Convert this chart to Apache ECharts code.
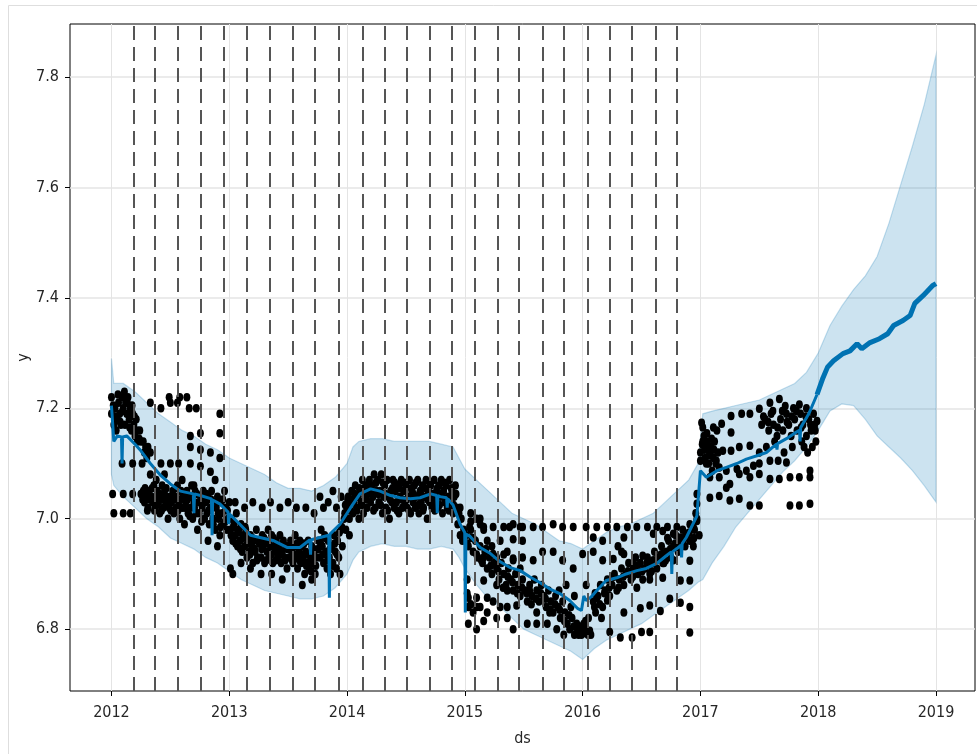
<!DOCTYPE html>
<html>
<head>
<meta charset="utf-8">
<script src="https://cdn.jsdelivr.net/npm/echarts@6/dist/echarts.min.js"></script>
<style>
  html, body { margin: 0; padding: 0; background: #ffffff; }
  #chart { width: 977px; height: 754px; }
</style>
</head>
<body>
<div id="chart"></div>
<script>
// Axis ticks
const yearTicks = [2012, 2013, 2014, 2015, 2016, 2017, 2018, 2019];
const valueTicks = [6.8, 7.0, 7.2, 7.4, 7.6, 7.8];

// Trend changepoints (decimal years)
const changepoints = [
  2012.195, 2012.365, 2012.56, 2012.755, 2012.95, 2013.154, 2013.341, 2013.536,
  2013.731, 2013.926, 2014.129, 2014.316, 2014.511, 2014.698, 2014.893, 2015.08,
  2015.275, 2015.462, 2015.657, 2015.843, 2016.038, 2016.233, 2016.42, 2016.615, 2016.802
];

// Observed history: [decimal year, y]
const observed = [
  // 2012 Q1
  [2012.00,7.22],[2012.00,7.19],[2012.01,7.045],[2012.02,7.01],[2012.02,7.17],[2012.03,7.20],[2012.04,7.16],
  [2012.05,7.18],[2012.06,7.21],[2012.07,7.19],[2012.08,7.17],[2012.09,7.22],[2012.09,7.10],[2012.10,7.20],
  [2012.10,7.045],[2012.10,7.01],[2012.11,7.23],[2012.12,7.21],[2012.13,7.19],[2012.14,7.22],[2012.15,7.18],
  [2012.16,7.20],[2012.16,7.01],[2012.17,7.16],[2012.18,7.19],[2012.18,7.10],[2012.18,7.045],[2012.19,7.17],
  [2012.20,7.15],[2012.21,7.18],[2012.22,7.14],[2012.24,7.16],[2012.25,7.14],[2012.25,7.045],[2012.26,7.10],
  [2012.015,7.205],[2012.035,7.185],[2012.055,7.225],[2012.075,7.175],[2012.095,7.195],[2012.115,7.17],
  [2012.135,7.21],[2012.155,7.165],[2012.175,7.205],[2012.195,7.185],[2012.215,7.16],[2012.235,7.145],
  // 2012 Q2
  [2012.27,7.14],[2012.28,7.12],[2012.29,7.13],[2012.30,7.11],[2012.31,7.13],[2012.33,7.12],[2012.33,7.21],
  [2012.42,7.20],[2012.42,7.10],[2012.50,7.21],[2012.49,7.22],[2012.50,7.10],[2012.33,7.08],[2012.38,7.07],
  [2012.45,7.08],[2012.27,7.05],[2012.28,7.03],[2012.30,7.04],[2012.31,7.02],[2012.32,7.05],[2012.34,7.04],
  [2012.35,7.03],[2012.36,7.06],[2012.37,7.02],[2012.38,7.04],[2012.39,7.05],[2012.40,7.03],[2012.41,7.01],
  [2012.42,7.04],[2012.43,7.06],[2012.44,7.02],[2012.45,7.05],[2012.46,7.03],[2012.47,7.04],[2012.48,7.00],
  [2012.49,7.02],[2012.50,7.04],
  [2012.265,7.035],[2012.285,7.055],[2012.305,7.015],[2012.325,7.035],[2012.345,7.055],[2012.365,7.015],
  [2012.385,7.025],[2012.405,7.045],[2012.425,7.015],[2012.445,7.035],[2012.465,7.055],[2012.485,7.025],
  // 2012 Q3
  [2012.56,7.21],[2012.58,7.22],[2012.64,7.22],[2012.66,7.20],[2012.72,7.20],[2012.57,7.10],[2012.67,7.15],
  [2012.67,7.13],[2012.67,7.10],[2012.755,7.155],[2012.755,7.125],[2012.755,7.095],[2012.60,7.07],[2012.70,7.06],
  [2012.51,7.03],[2012.52,7.05],[2012.53,7.01],[2012.54,7.04],[2012.55,7.02],[2012.56,7.06],[2012.57,7.03],
  [2012.58,7.00],[2012.59,7.05],[2012.60,7.02],[2012.61,7.04],[2012.62,6.99],[2012.63,7.03],[2012.64,7.05],
  [2012.65,7.01],[2012.66,7.04],[2012.67,7.02],[2012.68,7.06],[2012.69,7.00],[2012.70,7.03],[2012.71,7.05],
  [2012.72,7.01],[2012.73,6.98],[2012.74,7.03],
  [2012.505,7.015],[2012.525,7.035],[2012.545,7.055],[2012.565,7.015],[2012.585,7.035],[2012.605,7.045],
  [2012.625,7.02],[2012.645,7.035],[2012.665,7.005],[2012.685,7.04],[2012.705,7.02],[2012.725,7.045],
  [2012.745,7.01],
  // 2012 Q4
  [2012.92,7.19],[2012.92,7.155],[2012.92,7.11],[2012.84,7.12],[2012.84,7.085],[2012.88,7.07],
  [2012.76,7.04],[2012.77,7.02],[2012.78,7.05],[2012.79,7.00],[2012.80,7.03],[2012.81,7.01],[2012.82,7.04],
  [2012.82,6.96],[2012.83,6.99],[2012.84,7.02],[2012.85,7.05],[2012.86,7.00],[2012.87,7.03],[2012.88,6.98],
  [2012.89,7.02],[2012.90,7.04],[2012.90,6.95],[2012.91,7.00],[2012.92,6.97],[2012.93,7.03],[2012.94,7.01],
  [2012.95,6.99],[2012.96,7.05],[2012.97,7.02],[2012.98,6.98],[2012.99,7.00],
  [2012.765,6.995],[2012.785,7.03],[2012.805,7.045],[2012.825,7.015],[2012.845,7.035],[2012.865,6.99],
  [2012.885,7.025],[2012.905,7.01],[2012.925,6.985],[2012.945,7.035],[2012.965,6.995],[2012.985,7.015],
  // 2013 Q1
  [2013.00,7.03],[2013.01,6.98],[2013.02,7.00],[2013.03,6.96],[2013.04,6.99],[2013.05,6.97],[2013.06,7.01],
  [2013.07,6.95],[2013.08,6.98],[2013.09,6.96],[2013.10,6.99],[2013.11,6.94],[2013.12,6.97],[2013.13,6.95],
  [2013.14,6.98],[2013.15,6.93],[2013.16,6.96],[2013.17,6.94],[2013.18,6.97],[2013.19,6.95],[2013.20,6.92],
  [2013.21,6.96],[2013.22,6.94],[2013.23,6.98],[2013.24,6.93],[2013.05,7.03],[2013.13,7.02],[2013.20,7.03],
  [2013.01,6.91],[2013.03,6.90],[2013.10,6.92],[2013.18,6.91],
  [2013.015,6.97],[2013.035,6.985],[2013.055,6.955],[2013.075,6.975],[2013.095,6.945],[2013.115,6.965],
  [2013.135,6.985],[2013.155,6.955],[2013.175,6.935],[2013.195,6.965],[2013.215,6.945],[2013.235,6.925],
  // 2013 Q2
  [2013.26,6.96],[2013.27,6.93],[2013.28,6.97],[2013.29,6.95],[2013.30,6.92],[2013.31,6.96],[2013.32,6.94],
  [2013.33,6.98],[2013.34,6.93],[2013.35,6.95],[2013.36,6.97],[2013.37,6.92],[2013.38,6.95],[2013.39,6.94],
  [2013.40,6.96],[2013.41,6.93],[2013.42,6.95],[2013.43,6.97],[2013.44,6.92],[2013.45,6.94],[2013.46,6.96],
  [2013.47,6.93],[2013.48,6.95],[2013.49,6.91],[2013.28,7.02],[2013.35,7.03],[2013.43,7.02],[2013.50,7.03],
  [2013.27,6.90],[2013.36,6.90],[2013.45,6.89],
  [2013.255,6.955],[2013.275,6.945],[2013.295,6.965],[2013.315,6.925],[2013.335,6.955],[2013.355,6.935],
  [2013.375,6.965],[2013.395,6.925],[2013.415,6.945],[2013.435,6.935],[2013.455,6.955],[2013.475,6.925],
  [2013.495,6.945],
  // 2013 Q3
  [2013.50,6.95],[2013.51,6.93],[2013.52,6.96],[2013.53,6.94],[2013.54,6.92],[2013.55,6.95],[2013.56,6.97],
  [2013.57,6.93],[2013.58,6.91],[2013.59,6.94],[2013.60,6.96],[2013.61,6.92],[2013.62,6.95],[2013.63,6.93],
  [2013.64,6.90],[2013.65,6.94],[2013.66,6.92],[2013.67,6.96],[2013.68,6.91],[2013.69,6.93],[2013.70,6.95],
  [2013.71,6.92],[2013.72,6.94],[2013.73,6.90],[2013.74,6.93],[2013.57,7.02],[2013.65,7.02],[2013.72,7.01],
  [2013.62,6.88],[2013.70,6.89],
  [2013.515,6.945],[2013.535,6.925],[2013.555,6.935],[2013.575,6.955],[2013.595,6.925],[2013.615,6.935],
  [2013.635,6.955],[2013.655,6.915],[2013.675,6.935],[2013.695,6.905],[2013.715,6.945],[2013.735,6.915],
  // 2013 Q4
  [2013.76,6.96],[2013.77,6.93],[2013.78,6.98],[2013.79,6.95],[2013.80,6.92],[2013.81,6.97],[2013.82,6.94],
  [2013.83,6.91],[2013.84,6.96],[2013.85,6.93],[2013.86,6.90],[2013.87,6.95],[2013.88,6.92],[2013.89,6.97],
  [2013.90,6.94],[2013.91,6.91],[2013.92,6.96],[2013.93,6.93],[2013.94,6.90],[2013.95,6.98],[2013.96,6.95],
  [2013.77,7.04],[2013.80,7.02],[2013.84,7.03],[2013.88,7.05],[2013.91,7.02],[2013.95,7.04],[2013.98,7.01],
  [2013.755,6.945],[2013.775,6.955],[2013.795,6.935],[2013.815,6.965],[2013.835,6.925],[2013.855,6.945],
  [2013.875,6.915],[2013.895,6.955],[2013.915,6.935],[2013.935,6.975],[2013.955,6.985],[2013.975,7.00],
  [2013.985,7.025],
  // 2014 Q1
  [2014.00,7.02],[2014.01,7.04],[2014.02,7.00],[2014.03,7.03],[2014.04,7.05],[2014.05,7.01],[2014.06,7.03],
  [2014.07,7.06],[2014.08,7.02],[2014.09,7.04],[2014.10,7.00],[2014.11,7.05],[2014.12,7.03],[2014.13,7.07],
  [2014.14,7.01],[2014.15,7.04],[2014.16,7.06],[2014.17,7.02],[2014.18,7.05],[2014.19,7.07],[2014.20,7.03],
  [2014.21,7.06],[2014.22,7.04],[2014.23,7.08],[2014.24,7.02],[2014.25,7.05],[2013.99,6.98],[2014.02,6.97],
  [2014.005,7.035],[2014.025,7.015],[2014.045,7.035],[2014.065,7.045],[2014.085,7.015],[2014.105,7.055],
  [2014.125,7.025],[2014.145,7.055],[2014.165,7.035],[2014.185,7.065],[2014.205,7.045],[2014.225,7.015],
  [2014.245,7.065],
  // 2014 Q2
  [2014.26,7.07],[2014.27,7.03],[2014.28,7.05],[2014.29,7.08],[2014.30,7.01],[2014.31,7.04],[2014.32,7.06],
  [2014.33,7.02],[2014.34,7.07],[2014.35,7.04],[2014.36,7.00],[2014.37,7.05],[2014.38,7.03],[2014.39,7.07],
  [2014.40,7.02],[2014.41,7.05],[2014.42,7.03],[2014.43,7.06],[2014.44,7.01],[2014.45,7.04],[2014.46,7.07],
  [2014.47,7.02],[2014.48,7.05],[2014.49,7.03],
  [2014.265,7.045],[2014.285,7.025],[2014.305,7.065],[2014.325,7.045],[2014.345,7.015],[2014.365,7.035],
  [2014.385,7.055],[2014.405,7.065],[2014.425,7.015],[2014.445,7.055],[2014.465,7.035],[2014.485,7.065],
  // 2014 Q3
  [2014.50,7.06],[2014.51,7.02],[2014.52,7.04],[2014.53,7.07],[2014.54,7.01],[2014.55,7.05],[2014.56,7.03],
  [2014.57,7.06],[2014.58,7.02],[2014.59,7.04],[2014.60,7.07],[2014.61,7.01],[2014.62,7.05],[2014.63,7.03],
  [2014.64,7.06],[2014.65,7.02],[2014.66,7.04],[2014.67,7.07],[2014.68,7.00],[2014.69,7.05],[2014.70,7.03],
  [2014.71,7.06],[2014.72,7.02],[2014.73,7.04],[2014.74,7.07],
  [2014.505,7.035],[2014.525,7.015],[2014.545,7.055],[2014.565,7.045],[2014.585,7.065],[2014.605,7.025],
  [2014.625,7.045],[2014.645,7.015],[2014.665,7.055],[2014.685,7.035],[2014.705,7.065],[2014.725,7.045],
  [2014.745,7.015],
  // 2014 Q4
  [2014.75,7.03],[2014.76,7.05],[2014.77,7.02],[2014.78,7.06],[2014.79,7.04],[2014.80,7.07],[2014.81,7.01],
  [2014.82,7.05],[2014.83,7.03],[2014.84,7.06],[2014.85,7.02],[2014.86,7.04],[2014.87,7.07],[2014.88,7.03],
  [2014.89,7.05],[2014.90,7.01],[2014.91,7.04],[2014.92,7.06],[2014.93,7.02],[2014.94,6.99],[2014.95,7.01],
  [2014.96,6.97],[2014.97,7.00],[2014.98,6.96],[2014.99,6.98],
  [2014.765,7.055],[2014.785,7.025],[2014.805,7.045],[2014.825,7.065],[2014.845,7.035],[2014.865,7.015],
  [2014.885,7.055],[2014.905,7.025],[2014.925,7.045],
  // 2015 Q1
  [2014.96,7.02],[2015.04,6.985],[2015.07,6.965],[2015.13,7.00],[2015.16,6.985],[2015.19,6.96],[2015.23,6.95],
  [2015.05,7.01],[2015.05,6.995],[2015.10,7.00],[2015.13,6.99],[2015.16,6.98],
  [2015.01,6.97],[2015.03,6.95],[2015.05,6.98],[2015.07,6.94],[2015.09,6.96],[2015.11,6.93],[2015.13,6.95],
  [2015.15,6.92],[2015.17,6.94],[2015.19,6.91],[2015.21,6.93],[2015.23,6.90],[2015.25,6.92],
  [2015.02,6.89],[2015.03,6.857],[2015.03,6.84],[2015.03,6.81],[2015.10,6.857],[2015.10,6.84],[2015.10,6.80],
  [2015.19,6.857],[2015.19,6.83],[2015.02,6.865],[2015.05,6.845],[2015.07,6.83],[2015.13,6.84],[2015.16,6.815],
  [2015.24,6.85],[2015.16,6.93],[2015.24,6.936],[2015.16,6.888],[2015.24,6.985],
  [2015.02,6.955],[2015.06,6.965],[2015.10,6.935],[2015.14,6.925],[2015.18,6.945],[2015.22,6.915],
  // 2015 Q2
  [2015.27,6.93],[2015.30,6.96],[2015.36,6.94],[2015.41,6.925],[2015.47,6.91],[2015.38,6.985],[2015.41,6.99],
  [2015.47,6.985],[2015.27,6.82],[2015.30,6.84],[2015.36,6.82],[2015.41,6.80],[2015.36,6.84],[2015.44,6.843],
  [2015.33,6.935],[2015.41,6.928],[2015.49,6.93],[2015.41,6.963],[2015.49,6.96],[2015.33,6.985],[2015.49,6.985],
  [2015.27,6.91],[2015.29,6.89],[2015.31,6.92],[2015.33,6.90],[2015.35,6.88],[2015.37,6.91],[2015.39,6.89],
  [2015.41,6.87],[2015.43,6.90],[2015.45,6.88],[2015.47,6.86],[2015.49,6.89],[2015.27,6.88],[2015.36,6.87],
  [2015.285,6.905],[2015.325,6.875],[2015.365,6.895],[2015.405,6.885],[2015.445,6.865],[2015.485,6.875],
  // 2015 Q3
  [2015.51,6.87],[2015.53,6.85],[2015.55,6.88],[2015.57,6.86],[2015.59,6.89],[2015.61,6.87],[2015.63,6.85],
  [2015.65,6.88],[2015.67,6.86],[2015.69,6.84],[2015.71,6.87],[2015.73,6.85],[2015.53,6.81],[2015.61,6.83],
  [2015.61,6.81],[2015.70,6.81],[2015.72,6.83],[2015.58,6.925],[2015.66,6.94],[2015.75,6.94],[2015.58,6.985],
  [2015.66,6.985],[2015.75,6.99],[2015.55,6.87],
  [2015.525,6.865],[2015.565,6.845],[2015.605,6.855],[2015.645,6.865],[2015.685,6.855],[2015.725,6.835],
  // 2015 Q4
  [2015.75,6.83],[2015.77,6.86],[2015.79,6.84],[2015.81,6.82],[2015.83,6.85],[2015.85,6.83],[2015.87,6.81],
  [2015.89,6.80],[2015.91,6.82],[2015.93,6.79],[2015.95,6.81],[2015.97,6.80],[2015.99,6.79],[2015.78,6.80],
  [2015.84,6.79],[2015.90,6.84],[2015.95,6.792],[2015.83,6.925],[2015.92,6.91],[2015.83,6.985],[2015.92,6.985],
  [2015.80,6.87],[2015.86,6.88],[2015.93,6.86],
  [2015.765,6.845],[2015.805,6.835],[2015.845,6.815],[2015.885,6.825],[2015.925,6.805],[2015.965,6.79],
  [2015.985,6.805],
  // 2016 Q1
  [2016.00,6.792],[2016.06,6.797],[2016.01,6.81],[2016.03,6.80],[2016.05,6.82],[2016.07,6.79],[2016.09,6.85],
  [2016.11,6.83],[2016.13,6.86],[2016.15,6.88],[2016.17,6.84],[2016.19,6.87],[2016.21,6.89],[2016.23,6.86],
  [2016.12,6.857],[2016.21,6.852],[2016.23,6.795],[2016.00,6.936],[2016.09,6.94],[2016.17,6.925],[2016.09,6.966],
  [2016.17,6.96],[2016.03,6.985],[2016.12,6.985],[2016.21,6.985],[2016.03,6.88],[2016.10,6.84],[2016.16,6.82],
  [2016.005,6.795],[2016.025,6.815],[2016.045,6.79],[2016.105,6.865],[2016.145,6.845],[2016.185,6.865],
  [2016.225,6.875],
  // 2016 Q2
  [2016.25,6.88],[2016.27,6.90],[2016.29,6.87],[2016.31,6.89],[2016.33,6.91],[2016.35,6.88],[2016.37,6.90],
  [2016.39,6.92],[2016.41,6.89],[2016.43,6.91],[2016.45,6.93],[2016.47,6.90],[2016.49,6.92],[2016.32,6.785],
  [2016.42,6.785],[2016.35,6.83],[2016.46,6.875],[2016.49,6.838],[2016.26,6.927],[2016.35,6.936],[2016.43,6.92],
  [2016.35,6.966],[2016.29,6.985],[2016.38,6.985],[2016.46,6.985],[2016.30,6.95],[2016.33,6.94],
  [2016.265,6.895],[2016.305,6.875],[2016.345,6.895],[2016.385,6.905],[2016.425,6.895],[2016.465,6.915],
  // 2016 Q3
  [2016.51,6.89],[2016.53,6.91],[2016.55,6.93],[2016.57,6.90],[2016.59,6.92],[2016.61,6.94],[2016.63,6.91],
  [2016.65,6.93],[2016.67,6.95],[2016.69,6.92],[2016.71,6.94],[2016.73,6.96],[2016.50,6.795],[2016.57,6.795],
  [2016.57,6.843],[2016.57,6.89],[2016.66,6.833],[2016.68,6.893],[2016.74,6.855],[2016.51,6.933],[2016.60,6.925],
  [2016.68,6.936],[2016.60,6.973],[2016.68,6.978],[2016.55,6.985],[2016.63,6.985],[2016.72,6.985],[2016.68,6.92],
  [2016.72,6.965],
  [2016.505,6.905],[2016.545,6.92],[2016.585,6.905],[2016.625,6.925],[2016.665,6.935],[2016.705,6.925],
  [2016.745,6.945],
  // 2016 Q4
  [2016.75,6.93],[2016.77,6.95],[2016.79,6.97],[2016.81,6.94],[2016.83,6.96],[2016.85,6.98],[2016.87,6.95],
  [2016.89,6.97],[2016.91,6.99],[2016.93,6.96],[2016.95,6.98],[2016.97,7.00],[2016.99,6.97],[2016.77,6.973],
  [2016.80,6.948],[2016.83,6.966],[2016.85,6.96],[2016.88,6.973],[2016.91,6.96],[2016.94,6.95],[2016.91,6.924],
  [2016.94,6.985],[2016.96,7.01],[2016.80,6.985],[2016.77,6.925],[2016.91,6.794],[2016.91,6.84],[2016.91,6.888],
  [2016.83,6.848],[2016.83,6.888],[2016.97,7.027],[2016.97,7.045],[2016.97,6.996],
  [2016.785,6.955],[2016.825,6.945],[2016.865,6.965],[2016.905,6.975],[2016.945,6.965],
  // 2017 upper group
  [2017.01,7.174],[2017.02,7.165],[2017.11,7.165],[2017.18,7.172],[2017.26,7.186],[2017.26,7.156],[2017.35,7.19],
  [2017.42,7.19],[2017.50,7.199],[2017.59,7.21],[2017.67,7.217],[2017.72,7.204],[2017.79,7.20],[2017.84,7.207],
  [2017.90,7.20],[2017.96,7.19],[2017.99,7.177],[2017.52,7.17],[2017.55,7.18],[2017.58,7.16],[2017.60,7.19],
  [2017.62,7.17],[2017.65,7.15],[2017.68,7.18],[2017.70,7.16],[2017.73,7.19],[2017.75,7.17],[2017.77,7.15],
  [2017.80,7.18],[2017.82,7.16],[2017.85,7.19],[2017.87,7.17],[2017.90,7.15],[2017.92,7.18],[2017.94,7.16],
  [2017.97,7.17],
  [2017.535,7.185],[2017.575,7.175],[2017.615,7.195],[2017.655,7.165],[2017.695,7.195],[2017.735,7.175],
  [2017.775,7.185],[2017.815,7.195],[2017.855,7.165],[2017.895,7.185],[2017.935,7.17],[2017.975,7.16],
  [2017.88,7.13],[2017.91,7.12],[2017.98,7.14],
  // 2017 middle groups
  [2017.02,7.14],[2017.05,7.13],[2017.08,7.12],[2017.11,7.11],[2017.15,7.12],[2017.19,7.123],[2017.26,7.123],
  [2017.33,7.13],[2017.42,7.132],[2017.50,7.12],[2017.00,7.12],[2017.03,7.15],[2017.04,7.11],[2017.06,7.14],
  [2017.07,7.10],[2017.09,7.13],[2017.12,7.14],[2017.13,7.10],[2017.14,7.16],[2017.56,7.13],[2017.63,7.14],
  [2017.71,7.12],[2017.78,7.13],[2017.86,7.14],[2017.95,7.13],
  [2017.015,7.135],[2017.035,7.125],[2017.055,7.155],[2017.075,7.115],[2017.095,7.145],[2017.115,7.125],
  [2017.135,7.105],
  [2017.00,7.105],[2017.05,7.10],[2017.10,7.087],[2017.16,7.093],[2017.22,7.087],[2017.31,7.09],[2017.39,7.087],
  [2017.45,7.096],[2017.50,7.10],[2017.59,7.105],[2017.66,7.105],[2017.73,7.102],
  // 2017 lower groups
  [2017.08,7.075],[2017.16,7.075],[2017.25,7.063],[2017.33,7.081],[2017.42,7.075],[2017.50,7.081],[2017.59,7.072],
  [2017.67,7.072],[2017.76,7.075],[2017.84,7.075],[2017.93,7.087],[2017.93,7.075],
  [2017.08,7.038],[2017.16,7.041],[2017.22,7.056],[2017.25,7.033],[2017.33,7.036],[2017.42,7.024],[2017.50,7.024],
  [2017.76,7.024],[2017.84,7.024],[2017.93,7.027]
];

// Fitted trend over the history
const fitDates = [
  2012.00, 2012.02, 2012.05, 2012.085, 2012.09, 2012.095, 2012.13, 2012.20, 2012.25, 2012.33, 2012.42,
  2012.50, 2012.585, 2012.695, 2012.70, 2012.705, 2012.755, 2012.849, 2012.854, 2012.859, 2012.92, 2012.99,
  2012.995, 2013.00, 2013.09, 2013.18, 2013.26, 2013.38, 2013.49, 2013.60, 2013.685, 2013.69, 2013.695,
  2013.77, 2013.845, 2013.85, 2013.855, 2013.94, 2014.03, 2014.11, 2014.20, 2014.28, 2014.37, 2014.45,
  2014.54, 2014.62, 2014.71, 2014.761, 2014.766, 2014.771, 2014.79, 2014.845, 2014.85, 2014.855, 2014.90,
  2014.96, 2014.999, 2015.004, 2015.009, 2015.045, 2015.13, 2015.21, 2015.30, 2015.38, 2015.47, 2015.55,
  2015.64, 2015.72, 2015.81, 2015.89, 2015.96, 2015.99, 2016.01, 2016.03, 2016.07, 2016.12, 2016.20,
  2016.29, 2016.37, 2016.46, 2016.54, 2016.63, 2016.71, 2016.752, 2016.757, 2016.762, 2016.80, 2016.835,
  2016.84, 2016.845, 2016.88, 2016.97, 2017.00, 2017.05, 2017.14, 2017.22, 2017.31, 2017.39, 2017.48,
  2017.56, 2017.645, 2017.65, 2017.655, 2017.73, 2017.80, 2017.841, 2017.846, 2017.851, 2017.92, 2017.99
];
const fitValues = [
  7.205, 7.14, 7.15, 7.148, 7.10, 7.148, 7.15, 7.135, 7.123, 7.10, 7.078,
  7.063, 7.05, 7.045, 7.01, 7.045, 7.042, 7.036, 6.97, 7.034, 7.027, 7.012,
  6.99, 7.009, 6.99, 6.97, 6.966, 6.96, 6.948, 6.948, 6.962, 6.935, 6.962,
  6.966, 6.97, 6.857, 6.972, 6.99, 7.02, 7.045, 7.054, 7.05, 7.042, 7.038,
  7.036, 7.038, 7.045, 7.042, 7.01, 7.042, 7.04, 7.038, 7.02, 7.036, 7.025,
  6.99, 6.975, 6.83, 6.972, 6.968, 6.948, 6.938, 6.922, 6.912, 6.906, 6.895,
  6.884, 6.873, 6.864, 6.852, 6.837, 6.834, 6.86, 6.852, 6.858, 6.87, 6.888,
  6.893, 6.90, 6.906, 6.91, 6.919, 6.933, 6.94, 6.90, 6.94, 6.946, 6.952,
  6.93, 6.955, 6.966, 7.005, 7.087, 7.075, 7.087, 7.093, 7.10, 7.108, 7.114,
  7.12, 7.135, 7.125, 7.136, 7.145, 7.155, 7.16, 7.14, 7.165, 7.19, 7.225
];

// Forecast beyond the history
const forecastDates = [
  2017.99, 2018.04, 2018.08, 2018.13, 2018.21, 2018.27, 2018.33, 2018.37, 2018.44, 2018.52,
  2018.59, 2018.64, 2018.72, 2018.78, 2018.82, 2018.89, 2018.97, 2019.00
];
const forecastValues = [
  7.225, 7.255, 7.275, 7.286, 7.299, 7.304, 7.317, 7.308, 7.319, 7.326,
  7.335, 7.35, 7.359, 7.368, 7.39, 7.404, 7.422, 7.426
];

// Uncertainty interval
const bandDates = [
  2012.00, 2012.02, 2012.1, 2012.2, 2012.3, 2012.4, 2012.5, 2012.6, 2012.7, 2012.8, 2012.9,
  2013.0, 2013.1, 2013.2, 2013.3, 2013.4, 2013.5, 2013.6, 2013.7, 2013.8, 2013.9,
  2014.0, 2014.05, 2014.1, 2014.2, 2014.3, 2014.4, 2014.5, 2014.6, 2014.7, 2014.8, 2014.9, 2014.95,
  2015.0, 2015.1, 2015.2, 2015.3, 2015.4, 2015.5, 2015.6, 2015.7, 2015.8, 2015.9,
  2016.0, 2016.1, 2016.2, 2016.3, 2016.4, 2016.5, 2016.6, 2016.7, 2016.8, 2016.9, 2016.98,
  2017.02, 2017.1, 2017.2, 2017.3, 2017.4, 2017.5, 2017.6, 2017.7, 2017.8, 2017.9,
  2018.0, 2018.1, 2018.2, 2018.3, 2018.4, 2018.5, 2018.6, 2018.7, 2018.8, 2018.9, 2018.95, 2019.0
];
const bandUpper = [
  7.29, 7.245, 7.245, 7.23, 7.21, 7.19, 7.175, 7.16, 7.15, 7.135, 7.125,
  7.11, 7.10, 7.09, 7.08, 7.065, 7.055, 7.055, 7.05, 7.06, 7.075,
  7.10, 7.13, 7.14, 7.145, 7.145, 7.14, 7.14, 7.14, 7.14, 7.135, 7.13, 7.11,
  7.09, 7.07, 7.05, 7.03, 7.01, 7.0, 6.99, 6.975, 6.96, 6.955,
  6.945, 6.96, 6.975, 6.985, 6.99, 7.0, 7.01, 7.03, 7.05, 7.07, 7.10,
  7.19, 7.195, 7.20, 7.205, 7.21, 7.215, 7.225, 7.235, 7.245, 7.265,
  7.30, 7.35, 7.385, 7.415, 7.44, 7.475, 7.535, 7.605, 7.675, 7.75, 7.795, 7.84
];
const bandLower = [
  7.08, 7.06, 7.04, 7.02, 7.0, 6.985, 6.965, 6.955, 6.945, 6.93, 6.92,
  6.905, 6.89, 6.88, 6.87, 6.865, 6.86, 6.855, 6.855, 6.86, 6.875,
  6.90, 6.925, 6.94, 6.95, 6.955, 6.95, 6.95, 6.945, 6.945, 6.95, 6.945, 6.93,
  6.91, 6.88, 6.855, 6.84, 6.82, 6.80, 6.79, 6.78, 6.77, 6.76,
  6.745, 6.765, 6.78, 6.79, 6.80, 6.81, 6.825, 6.84, 6.855, 6.87, 6.885,
  6.89, 6.92, 6.95, 6.985, 7.01, 7.035, 7.06, 7.085, 7.105, 7.13,
  7.16, 7.195, 7.208, 7.205, 7.18, 7.15, 7.13, 7.11, 7.087, 7.06, 7.045, 7.03
];

const axisFont = "'DejaVu Sans Condensed', 'DejaVu Sans', sans-serif";
const textColor = '#262626';

const chart = echarts.init(document.getElementById('chart'), null, { renderer: 'canvas' });

const zip = (xs, ys) => xs.map((x, i) => [x, ys[i]]);

chart.setOption({
  animation: false,
  backgroundColor: '#ffffff',
  graphic: [{
    type: 'rect',
    silent: true,
    z: -10,
    shape: { x: 8.5, y: 5.5, width: 990, height: 770 },
    style: { fill: null, stroke: '#dedede', lineWidth: 1 }
  }],
  grid: {
    left: 70, right: 2, top: 24, bottom: 63,
    show: true, borderColor: '#000000', borderWidth: 1, backgroundColor: 'transparent'
  },
  xAxis: {
    type: 'value',
    min: 2011.648, max: 2019.331,
    name: 'ds', nameLocation: 'middle', nameGap: 40, nameMoveOverlap: false,
    nameTextStyle: { fontFamily: axisFont, fontSize: 16, color: textColor },
    axisLine: { show: false },
    axisTick: { show: true, length: 5, customValues: yearTicks, lineStyle: { color: '#000', width: 1 } },
    axisLabel: {
      customValues: yearTicks, margin: 14, color: textColor,
      fontFamily: axisFont, fontSize: 16,
      formatter: v => String(Math.round(v))
    },
    splitLine: { show: true, lineStyle: { color: '#e4e4e4', width: 1 } }
  },
  yAxis: {
    type: 'value',
    min: 6.688, max: 7.896,
    name: 'y', nameLocation: 'middle', nameGap: 38, nameRotate: 90, nameMoveOverlap: false,
    nameTextStyle: { fontFamily: axisFont, fontSize: 16, color: textColor },
    axisLine: { show: false },
    axisTick: { show: true, length: 5, customValues: valueTicks, lineStyle: { color: '#000', width: 1 } },
    axisLabel: {
      customValues: valueTicks, margin: 11, color: textColor,
      fontFamily: axisFont, fontSize: 16,
      formatter: v => v.toFixed(1)
    },
    splitLine: { show: true, lineStyle: { color: '#e4e4e4', width: 1.5 } }
  },
  series: [
    {
      // shaded interval between lower and upper bounds
      type: 'custom',
      z: 1,
      silent: true,
      clip: true,
      data: [[bandDates[0], bandUpper[0]]],
      renderItem: (params, api) => {
        const pts = [];
        for (let i = 0; i < bandDates.length; i++) pts.push(api.coord([bandDates[i], bandUpper[i]]));
        for (let i = bandDates.length - 1; i >= 0; i--) pts.push(api.coord([bandDates[i], bandLower[i]]));
        return {
          type: 'polygon',
          shape: { points: pts },
          style: { fill: 'rgba(0,114,178,0.2)', stroke: 'rgba(0,114,178,0.22)', lineWidth: 1.2 }
        };
      }
    },
    {
      type: 'scatter',
      z: 3,
      silent: true,
      symbol: 'circle',
      symbolSize: [7, 8.5],
      itemStyle: { color: '#000000', opacity: 1 },
      data: observed,
      markLine: {
        silent: true,
        symbol: ['none', 'none'],
        label: { show: false },
        lineStyle: { type: [14, 7], color: '#555555', width: 2, opacity: 1 },
        emphasis: { disabled: true },
        data: changepoints.map(v => ({ xAxis: v }))
      }
    },
    {
      type: 'line',
      z: 4,
      silent: true,
      showSymbol: false,
      lineStyle: { color: '#0072B2', width: 3 },
      data: zip(fitDates, fitValues)
    },
    {
      type: 'line',
      z: 4,
      silent: true,
      showSymbol: false,
      lineStyle: { color: '#0072B2', width: 5 },
      data: zip(forecastDates, forecastValues)
    }
  ]
});
</script>
</body>
</html>
